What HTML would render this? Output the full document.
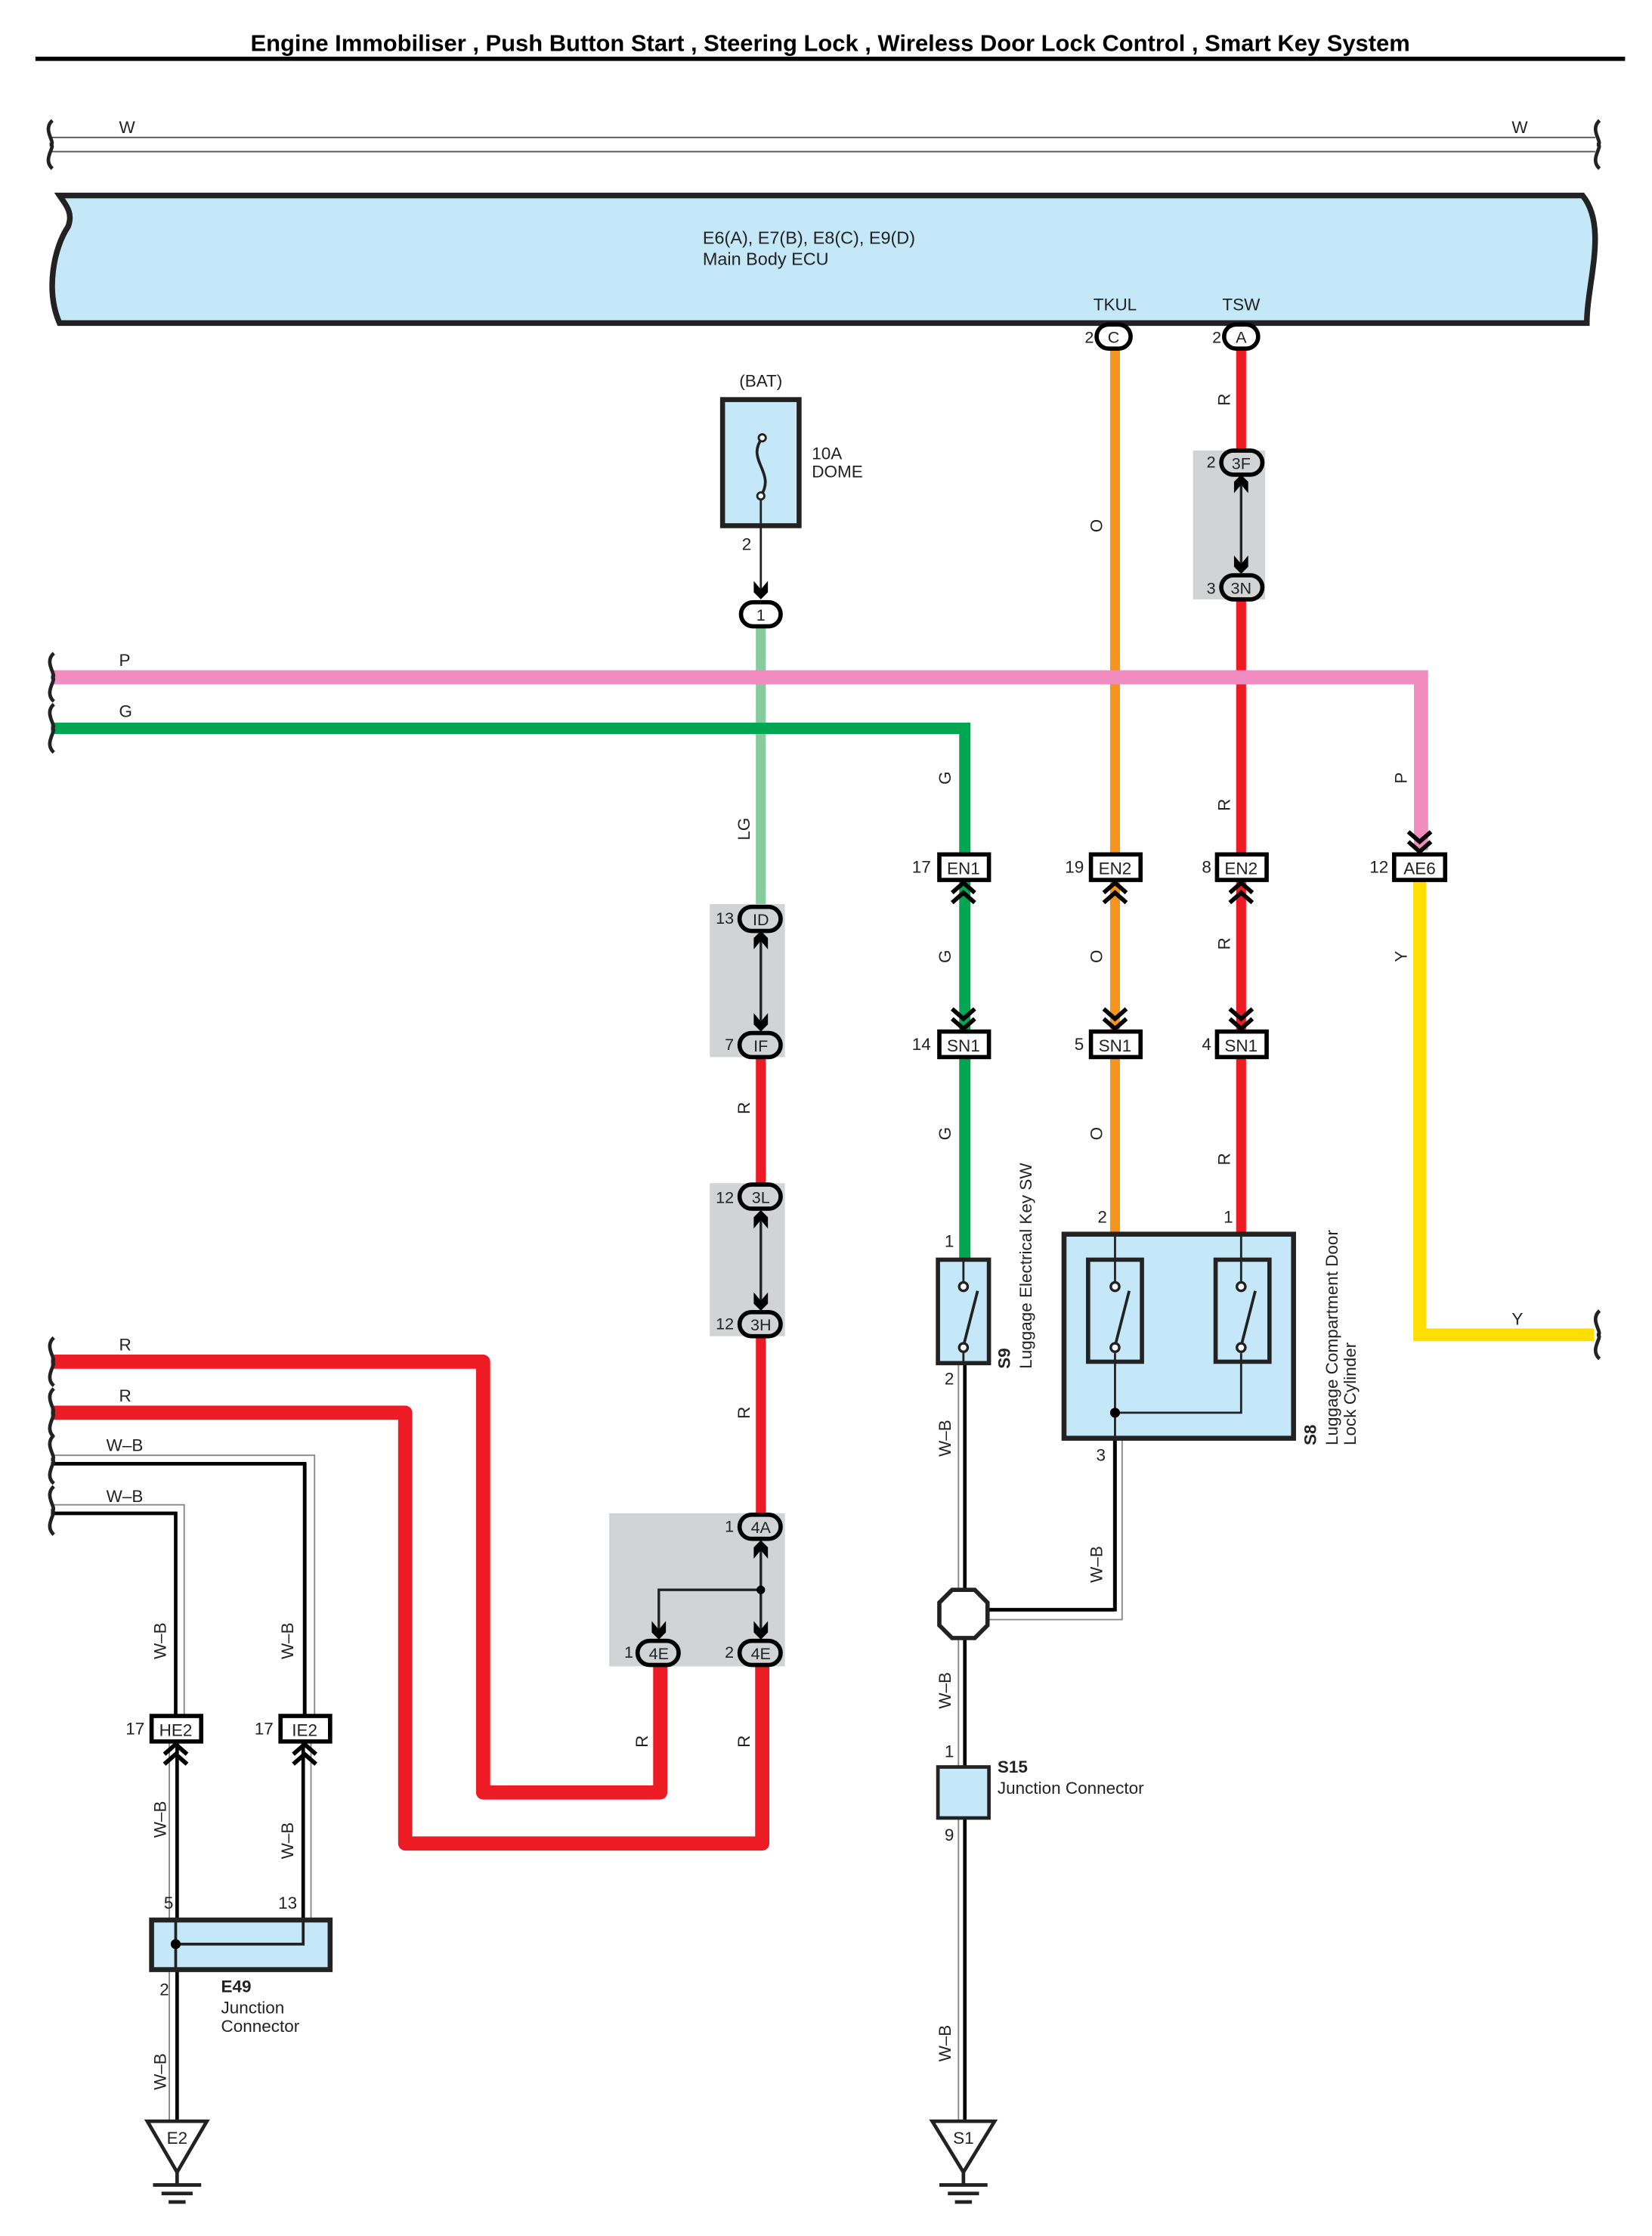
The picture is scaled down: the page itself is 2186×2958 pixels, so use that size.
<!DOCTYPE html>
<html><head><meta charset="utf-8"><style>
html,body{margin:0;padding:0;background:#fff;}
svg{display:block;}
text{font-family:"Liberation Sans",sans-serif;fill:#222;}
</style></head><body>
<svg width="2186" height="2958" viewBox="0 0 1166 1578" preserveAspectRatio="none" xmlns="http://www.w3.org/2000/svg">
<defs>
<g id="chd"><polyline points="-8,-15 0,-8 8,-15" fill="none" stroke="#000" stroke-width="3"/><polyline points="-8,-8 0,-1 8,-8" fill="none" stroke="#000" stroke-width="3"/></g>
<g id="chu"><polyline points="-8,15 0,8 8,15" fill="none" stroke="#000" stroke-width="3"/><polyline points="-8,8 0,1 8,8" fill="none" stroke="#000" stroke-width="3"/></g>
<g id="ad"><path d="M-5,-12 L0,-6 L5,-12 L5,-4 L0,1 L-5,-4Z" fill="#000"/></g>
<g id="au"><path d="M-5,12 L0,6 L5,12 L5,4 L0,-1 L-5,4Z" fill="#000"/></g>
<g id="brace"><path d="M2,-17 C-6,-10 6,0 0,0 C6,0 -6,10 2,17" fill="none" stroke="#222" stroke-width="2.5"/></g>
</defs>

<text x="586" y="36" font-size="16.5" font-weight="bold" text-anchor="middle" style="fill:#000">Engine Immobiliser , Push Button Start , Steering Lock , Wireless Door Lock Control , Smart Key System</text>
<rect x="25" y="40" width="1122" height="3" fill="#000"/>

<line x1="36" y1="97" x2="1126" y2="97" stroke="#555" stroke-width="1"/>
<line x1="36" y1="107" x2="1126" y2="107" stroke="#555" stroke-width="1"/>
<use href="#brace" x="35" y="102"/><use href="#brace" x="1127" y="102"/>
<text x="84" y="94" font-size="12">W</text><text x="1067" y="94" font-size="12">W</text>

<path d="M42,138 L1117,138 C1135,160 1120,200 1120,228 L42,228 C32,205 38,175 48,160 C52,150 46,144 42,138Z" fill="#c5e8f9" stroke="#222" stroke-width="4"/>
<text x="496" y="172" font-size="12.5">E6(A), E7(B), E8(C), E9(D)</text>
<text x="496" y="187" font-size="12.5">Main Body ECU</text>
<text x="787" y="219" font-size="12" text-anchor="middle">TKUL</text>
<text x="876" y="219" font-size="12" text-anchor="middle">TSW</text>

<line x1="787" y1="245" x2="787" y2="872" stroke="#f7941d" stroke-width="7"/>
<line x1="876" y1="245" x2="876" y2="872" stroke="#ed1c24" stroke-width="7"/>
<line x1="537" y1="441" x2="537" y2="642" stroke="#85cc9c" stroke-width="7"/>
<line x1="537" y1="742" x2="537" y2="1075" stroke="#ed1c24" stroke-width="7"/>
<polyline points="36,478 1003,478 1003,600" fill="none" stroke="#f08cbf" stroke-width="10"/>
<polyline points="36,514 681,514 681,890" fill="none" stroke="#00a651" stroke-width="8"/>
<polyline points="1002,620 1002,942 1125,942" fill="none" stroke="#ffde00" stroke-width="9"/>
<use href="#brace" x="36" y="478"/><use href="#brace" x="36" y="514"/><use href="#brace" x="1127" y="942"/>
<text x="84" y="470" font-size="12">P</text><text x="84" y="506" font-size="12">G</text><text x="1067" y="935" font-size="12">Y</text>

<polyline points="36,961 341,961 341,1265 466,1265 466,1170" fill="none" stroke="#ed1c24" stroke-width="10" stroke-linejoin="round"/>
<polyline points="36,997 286,997 286,1301 538,1301 538,1170" fill="none" stroke="#ed1c24" stroke-width="10" stroke-linejoin="round"/>
<use href="#brace" x="36" y="961"/><use href="#brace" x="36" y="997"/>
<text x="84" y="953" font-size="12">R</text><text x="84" y="989" font-size="12">R</text>

<g fill="none">
<polyline points="36,1030 219,1030 219,1212" stroke="#888" stroke-width="7"/>
<polyline points="36,1030 219,1030 219,1212" stroke="#fff" stroke-width="5"/>
<polyline points="36,1033 215,1033 215,1212" stroke="#000" stroke-width="2.5"/>
<polyline points="36,1065 127,1065 127,1212" stroke="#888" stroke-width="7"/>
<polyline points="36,1065 127,1065 127,1212" stroke="#fff" stroke-width="5"/>
<polyline points="36,1068 124,1068 124,1212" stroke="#000" stroke-width="2.5"/>
<line x1="122" y1="1228" x2="122" y2="1497" stroke="#888" stroke-width="6"/><line x1="122" y1="1228" x2="122" y2="1497" stroke="#fff" stroke-width="4"/><line x1="125" y1="1228" x2="125" y2="1497" stroke="#000" stroke-width="2.5"/>
<line x1="217" y1="1228" x2="217" y2="1372" stroke="#888" stroke-width="6"/><line x1="217" y1="1228" x2="217" y2="1372" stroke="#fff" stroke-width="4"/><line x1="214" y1="1228" x2="214" y2="1372" stroke="#000" stroke-width="2.5"/>
<line x1="679" y1="962" x2="679" y2="1498" stroke="#888" stroke-width="6"/><line x1="679" y1="962" x2="679" y2="1498" stroke="#fff" stroke-width="4"/><line x1="681" y1="962" x2="681" y2="1498" stroke="#000" stroke-width="2.5"/>
<polyline points="789,1015 789,1140 690,1140" stroke="#888" stroke-width="7"/><polyline points="789,1015 789,1140 690,1140" stroke="#fff" stroke-width="5"/><polyline points="787,1015 787,1136 690,1136" stroke="#000" stroke-width="2.5"/>
</g>
<use href="#brace" x="36" y="1030"/><use href="#brace" x="36" y="1066"/>
<text x="75" y="1024" font-size="12">W–B</text><text x="75" y="1060" font-size="12">W–B</text>

<text x="537" y="273" font-size="12" text-anchor="middle">(BAT)</text>
<rect x="510" y="282" width="54" height="89" fill="#c5e8f9" stroke="#222" stroke-width="3.5"/>
<path d="M538,309 C526,325 548,333 537,350" fill="none" stroke="#222" stroke-width="2"/>
<circle cx="538" cy="309" r="2.5" fill="#fff" stroke="#222" stroke-width="1.5"/><circle cx="537" cy="350" r="2.5" fill="#fff" stroke="#222" stroke-width="1.5"/>
<line x1="537" y1="352" x2="537" y2="420" stroke="#222" stroke-width="1.5"/>
<use href="#ad" x="537" y="422"/>
<text x="573" y="324" font-size="12">10A</text><text x="573" y="337" font-size="12">DOME</text>
<text x="527" y="388" font-size="12" text-anchor="middle">2</text>

<rect x="842" y="318" width="51" height="105" fill="#d1d3d4"/>
<rect x="501" y="638" width="53" height="108" fill="#d1d3d4"/>
<rect x="501" y="835" width="53" height="108" fill="#d1d3d4"/>
<rect x="430" y="1068" width="124" height="108" fill="#d1d3d4"/>
<line x1="876" y1="338" x2="876" y2="402" stroke="#222" stroke-width="1.8"/><use href="#au" x="876" y="336"/><use href="#ad" x="876" y="404"/>
<line x1="537" y1="660" x2="537" y2="725" stroke="#222" stroke-width="1.8"/><use href="#au" x="537" y="658"/><use href="#ad" x="537" y="727"/>
<line x1="537" y1="857" x2="537" y2="922" stroke="#222" stroke-width="1.8"/><use href="#au" x="537" y="855"/><use href="#ad" x="537" y="924"/>
<polyline points="537,1090 537,1155" fill="none" stroke="#222" stroke-width="1.8"/>
<polyline points="537,1122 465,1122 465,1155" fill="none" stroke="#222" stroke-width="1.8"/>
<circle cx="537" cy="1122" r="3" fill="#000"/>
<use href="#au" x="537" y="1088"/><use href="#ad" x="537" y="1156"/><use href="#ad" x="465" y="1156"/>

<g stroke="#000" stroke-width="3">
<rect x="774" y="229" width="24" height="17" rx="8.5" fill="#fff"/>
<rect x="864" y="229" width="24" height="17" rx="8.5" fill="#fff"/>
<rect x="523" y="425" width="28" height="17" rx="8.5" fill="#fff"/>
<rect x="862" y="318" width="29" height="17" rx="8.5" fill="#d1d3d4"/>
<rect x="862" y="406" width="29" height="17" rx="8.5" fill="#d1d3d4"/>
<rect x="522" y="640" width="29" height="17" rx="8.5" fill="#d1d3d4"/>
<rect x="522" y="729" width="29" height="17" rx="8.5" fill="#d1d3d4"/>
<rect x="522" y="836" width="29" height="17" rx="8.5" fill="#d1d3d4"/>
<rect x="522" y="926" width="29" height="17" rx="8.5" fill="#d1d3d4"/>
<rect x="522" y="1069" width="29" height="17" rx="8.5" fill="#d1d3d4"/>
<rect x="450" y="1158" width="29" height="17" rx="8.5" fill="#d1d3d4"/>
<rect x="522" y="1158" width="29" height="17" rx="8.5" fill="#d1d3d4"/>
</g>
<g font-size="11.5" text-anchor="middle">
<text x="786" y="242">C</text><text x="876" y="242">A</text><text x="537" y="438">1</text>
<text x="876" y="331">3F</text><text x="876" y="419">3N</text>
<text x="537" y="653">ID</text><text x="537" y="742">IF</text>
<text x="537" y="849">3L</text><text x="537" y="939">3H</text>
<text x="537" y="1082">4A</text><text x="465" y="1171">4E</text><text x="537" y="1171">4E</text>
</g>
<g font-size="11.5" text-anchor="end">
<text x="772" y="242">2</text><text x="862" y="242">2</text>
<text x="858" y="330">2</text><text x="858" y="419">3</text>
<text x="518" y="652">13</text><text x="518" y="741">7</text>
<text x="518" y="849">12</text><text x="518" y="938">12</text>
<text x="518" y="1081">1</text><text x="447" y="1170">1</text><text x="518" y="1170">2</text>
</g>

<g stroke="#000" stroke-width="3" fill="#fff">
<rect x="663" y="603" width="35" height="18"/><rect x="770" y="603" width="35" height="18"/><rect x="859" y="603" width="35" height="18"/><rect x="984" y="603" width="36" height="18"/>
<rect x="663" y="728" width="35" height="18"/><rect x="770" y="728" width="35" height="18"/><rect x="859" y="728" width="35" height="18"/>
<rect x="107" y="1211" width="35" height="18"/><rect x="198" y="1211" width="35" height="18"/>
</g>
<g font-size="12" text-anchor="middle">
<text x="680" y="617">EN1</text><text x="787" y="617">EN2</text><text x="876" y="617">EN2</text><text x="1002" y="617">AE6</text>
<text x="680" y="742">SN1</text><text x="787" y="742">SN1</text><text x="876" y="742">SN1</text>
<text x="124" y="1225">HE2</text><text x="215" y="1225">IE2</text>
</g>
<g font-size="12" text-anchor="end">
<text x="657" y="616">17</text><text x="765" y="616">19</text><text x="855" y="616">8</text><text x="980" y="616">12</text>
<text x="657" y="741">14</text><text x="765" y="741">5</text><text x="855" y="741">4</text>
<text x="102" y="1224">17</text><text x="193" y="1224">17</text>
</g>
<use href="#chu" x="680" y="622"/><use href="#chu" x="787" y="622"/><use href="#chu" x="876" y="622"/>
<use href="#chd" x="680" y="727"/><use href="#chd" x="787" y="727"/><use href="#chd" x="876" y="727"/><use href="#chd" x="1002" y="602"/>
<use href="#chu" x="124" y="1230"/><use href="#chu" x="215" y="1230"/>

<rect x="662" y="889" width="36" height="73" fill="#c5e8f9" stroke="#222" stroke-width="3"/>
<line x1="680" y1="907" x2="680" y2="889" stroke="#222" stroke-width="1.5"/>
<line x1="690" y1="911" x2="680" y2="950" stroke="#222" stroke-width="2"/>
<circle cx="680" cy="908" r="3" fill="#fff" stroke="#222" stroke-width="1.8"/><circle cx="680" cy="951" r="3" fill="#fff" stroke="#222" stroke-width="1.8"/>
<line x1="680" y1="954" x2="680" y2="962" stroke="#222" stroke-width="1.5"/>
<text x="670" y="880" font-size="12" text-anchor="middle">1</text><text x="670" y="977" font-size="12" text-anchor="middle">2</text>
<text transform="translate(713,966) rotate(-90)" font-size="12" font-weight="bold">S9</text>
<text transform="translate(728,966) rotate(-90)" font-size="12">Luggage Electrical Key SW</text>

<rect x="751" y="871" width="162" height="144" fill="#c5e8f9" stroke="#222" stroke-width="3.5"/>
<rect x="768" y="889" width="38" height="72" fill="none" stroke="#222" stroke-width="3"/>
<rect x="858" y="889" width="38" height="72" fill="none" stroke="#222" stroke-width="3"/>
<g stroke="#222" stroke-width="1.5" fill="none">
<line x1="787" y1="871" x2="787" y2="905"/><line x1="876" y1="871" x2="876" y2="905"/>
<line x1="787" y1="955" x2="787" y2="1015"/><polyline points="787,997 876,997 876,955"/>
</g>
<line x1="797" y1="911" x2="787" y2="950" stroke="#222" stroke-width="2"/><line x1="886" y1="911" x2="876" y2="950" stroke="#222" stroke-width="2"/>
<g fill="#fff" stroke="#222" stroke-width="1.8"><circle cx="787" cy="908" r="3"/><circle cx="787" cy="951" r="3"/><circle cx="876" cy="908" r="3"/><circle cx="876" cy="951" r="3"/></g>
<circle cx="787" cy="997" r="3.5" fill="#000"/>
<text x="778" y="863" font-size="12" text-anchor="middle">2</text><text x="867" y="863" font-size="12" text-anchor="middle">1</text><text x="777" y="1031" font-size="12" text-anchor="middle">3</text>
<text transform="translate(929,1020) rotate(-90)" font-size="12" font-weight="bold">S8</text>
<text transform="translate(944,1020) rotate(-90)" font-size="12">Luggage Compartment Door</text>
<text transform="translate(957,1020) rotate(-90)" font-size="12">Lock Cylinder</text>

<polygon points="672,1122 688,1122 697,1131 697,1147 688,1156 672,1156 663,1147 663,1131" fill="#fff" stroke="#222" stroke-width="3"/>

<rect x="662" y="1247" width="36" height="36" fill="#c5e8f9" stroke="#222" stroke-width="2.5"/>
<text x="670" y="1240" font-size="12" text-anchor="middle">1</text><text x="670" y="1299" font-size="12" text-anchor="middle">9</text>
<text x="704" y="1251" font-size="12" font-weight="bold">S15</text>
<text x="704" y="1266" font-size="12">Junction Connector</text>

<rect x="107" y="1355" width="126" height="35" fill="#c5e8f9" stroke="#222" stroke-width="3.5"/>
<polyline points="124,1372 214,1372 214,1355" fill="none" stroke="#222" stroke-width="2"/>
<line x1="124" y1="1355" x2="124" y2="1390" stroke="#222" stroke-width="2"/>
<circle cx="124" cy="1372" r="3.5" fill="#000"/>
<text x="119" y="1347" font-size="12" text-anchor="middle">5</text><text x="203" y="1347" font-size="12" text-anchor="middle">13</text>
<text x="116" y="1408" font-size="12" text-anchor="middle">2</text>
<text x="156" y="1406" font-size="12" font-weight="bold">E49</text>
<text x="156" y="1421" font-size="12">Junction</text><text x="156" y="1434" font-size="12">Connector</text>

<g stroke="#222" stroke-width="2.5" fill="#fff">
<polygon points="104,1497 146,1497 125,1533"/><polygon points="658,1497 702,1497 680,1533"/>
</g>
<g stroke="#222" stroke-width="2.5">
<line x1="125" y1="1533" x2="125" y2="1541"/><line x1="108" y1="1542" x2="142" y2="1542"/><line x1="114" y1="1548" x2="136" y2="1548"/><line x1="119" y1="1554" x2="131" y2="1554"/>
<line x1="680" y1="1533" x2="680" y2="1541"/><line x1="663" y1="1542" x2="697" y2="1542"/><line x1="669" y1="1548" x2="691" y2="1548"/><line x1="674" y1="1554" x2="686" y2="1554"/>
</g>
<text x="125" y="1513" font-size="12" text-anchor="middle">E2</text><text x="680" y="1513" font-size="12" text-anchor="middle">S1</text>

<g font-size="12" text-anchor="middle">
<text transform="translate(868,282) rotate(-90)">R</text>
<text transform="translate(778,371) rotate(-90)">O</text>
<text transform="translate(868,568) rotate(-90)">R</text>
<text transform="translate(529,585) rotate(-90)">LG</text>
<text transform="translate(671,549) rotate(-90)">G</text>
<text transform="translate(993,549) rotate(-90)">P</text>
<text transform="translate(671,675) rotate(-90)">G</text>
<text transform="translate(778,675) rotate(-90)">O</text>
<text transform="translate(868,666) rotate(-90)">R</text>
<text transform="translate(993,675) rotate(-90)">Y</text>
<text transform="translate(671,800) rotate(-90)">G</text>
<text transform="translate(778,800) rotate(-90)">O</text>
<text transform="translate(868,818) rotate(-90)">R</text>
<text transform="translate(529,782) rotate(-90)">R</text>
<text transform="translate(529,997) rotate(-90)">R</text>
<text transform="translate(457,1229) rotate(-90)">R</text>
<text transform="translate(529,1229) rotate(-90)">R</text>
<text transform="translate(671,1015) rotate(-90)">W–B</text>
<text transform="translate(778,1104) rotate(-90)">W–B</text>
<text transform="translate(671,1193) rotate(-90)">W–B</text>
<text transform="translate(671,1442) rotate(-90)">W–B</text>
<text transform="translate(117,1158) rotate(-90)">W–B</text>
<text transform="translate(207,1158) rotate(-90)">W–B</text>
<text transform="translate(117,1284) rotate(-90)">W–B</text>
<text transform="translate(207,1299) rotate(-90)">W–B</text>
<text transform="translate(117,1462) rotate(-90)">W–B</text>
</g>
</svg>
</body></html>
